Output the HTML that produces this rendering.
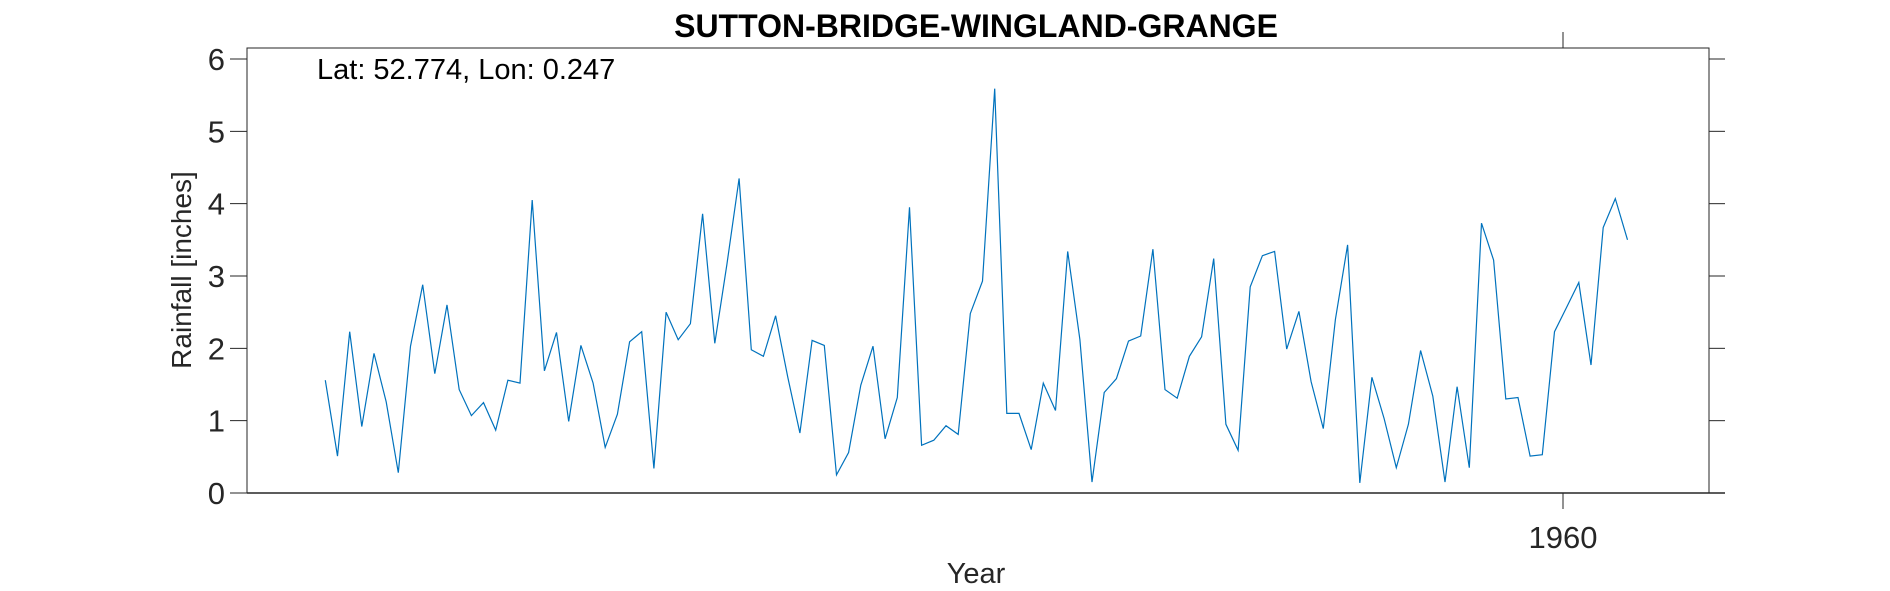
<!DOCTYPE html>
<html><head><meta charset="utf-8"><style>
body{margin:0;background:#fff;}
svg{display:block;font-family:"Liberation Sans",Arial,sans-serif;}
</style></head><body>
<svg id="chart" width="1890" height="591" viewBox="0 0 1890 591">
<text x="976" y="37" text-anchor="middle" font-size="32" font-weight="bold">SUTTON-BRIDGE-WINGLAND-GRANGE</text>
<g id="axes"></g>
<polyline id="series" fill="none" stroke="#0072BD" stroke-width="1.2"></polyline>
<text x="317" y="79" font-size="29">Lat: 52.774, Lon: 0.247</text>
<text transform="translate(191,270) rotate(-90)" text-anchor="middle" font-size="28" fill="#262626">Rainfall [inches]</text>
<text x="976" y="583" text-anchor="middle" font-size="29" fill="#262626">Year</text>
</svg>
<script>
const startYear = 1858;
const rainfall = [1.56,0.51,2.23,0.92,1.93,1.26,0.28,2.03,2.88,1.65,2.60,1.43,1.07,1.25,0.87,1.56,1.52,4.05,1.69,2.22,0.99,2.04,1.52,0.63,1.09,2.09,2.23,0.34,2.50,2.12,2.34,3.86,2.07,3.16,4.35,1.98,1.89,2.45,1.60,0.83,2.11,2.04,0.25,0.56,1.49,2.03,0.75,1.32,3.95,0.66,0.73,0.93,0.81,2.48,2.93,5.59,1.10,1.10,0.60,1.52,1.14,3.34,2.12,0.15,1.39,1.58,2.10,2.17,3.37,1.43,1.31,1.89,2.16,3.24,0.95,0.59,2.85,3.28,3.34,1.99,2.51,1.54,0.89,2.40,3.43,0.14,1.60,1.03,0.35,0.95,1.97,1.34,0.15,1.47,0.35,3.73,3.22,1.30,1.32,0.51,0.53,2.23,2.57,2.91,1.77,3.67,4.07,3.50];
const yTicks = [0,1,2,3,4,5,6];
const xTicks = [1960];
const L=247,R=1709,T=48,B=493;
function xs(y){return 1563+(y+0.3-1960)*12.17;}
function ys(v){return B-v*(B-59)/6;}
const NS="http://www.w3.org/2000/svg";
const ax=document.getElementById('axes');
function mk(tag,attrs,parent){const e=document.createElementNS(NS,tag);for(const k in attrs)e.setAttribute(k,attrs[k]);(parent||ax).appendChild(e);return e;}
const box=mk('path',{d:`M${L},${B} L${L},${T} L${R},${T} L${R},${B}`,fill:'none',stroke:'#262626','stroke-width':1});


const xl=mk('line',{x1:L,y1:B,x2:1725,y2:B,stroke:'#262626','stroke-width':1.5});


yTicks.forEach(v=>{
  const y=ys(v);
  const t1=mk('line',{x1:L-17,y1:y,x2:L,y2:y,stroke:'#262626','stroke-width':1});
  
  
  const t2=mk('line',{x1:R,y1:y,x2:R+16,y2:y,stroke:'#262626','stroke-width':1});
  
  
  const lb=mk('text',{x:225,y:y+11,'text-anchor':'end','font-size':31,fill:'#262626'});
  lb.textContent=v;
  
  
});
xTicks.forEach(v=>{
  const x=xs(v-0.3);
  const t=mk('line',{x1:x,y1:32,x2:x,y2:T,stroke:'#262626','stroke-width':1});
  
  
  const tb=mk('line',{x1:x,y1:B,x2:x,y2:509,stroke:'#262626','stroke-width':1});
  
  
  const lb=mk('text',{x:x,y:548,'text-anchor':'middle','font-size':31,fill:'#262626'});
  lb.textContent=v;
  
  
});
document.getElementById('series').setAttribute('points',rainfall.map((v,i)=>xs(startYear+i).toFixed(1)+','+ys(v).toFixed(1)).join(' '));
</script>
</body></html>
